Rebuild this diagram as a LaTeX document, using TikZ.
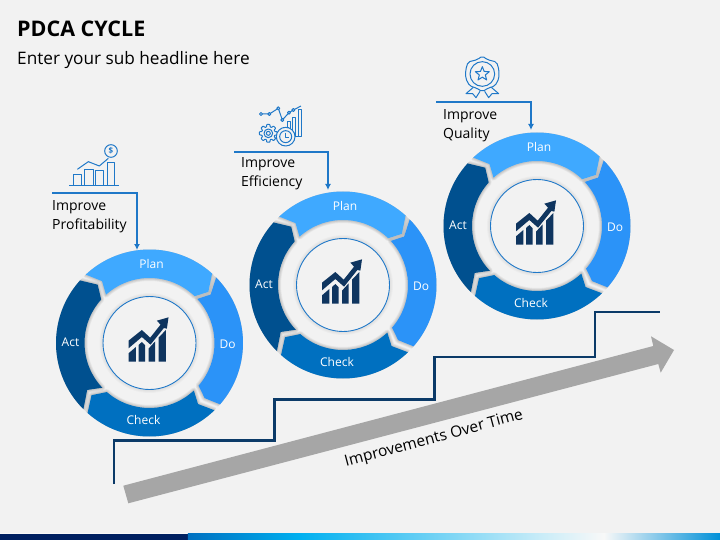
\documentclass[tikz,border=0pt]{standalone}
\usepackage{fontspec}
\setmainfont{Open Sans}
\usetikzlibrary{arrows.meta}
\definecolor{pagebg}{HTML}{F2F2F2}
\definecolor{planblue}{HTML}{3FA9FF}
\definecolor{doblue}{HTML}{2B93F8}
\definecolor{checkblue}{HTML}{0070C0}
\definecolor{actblue}{HTML}{00508F}
\definecolor{navy}{HTML}{0B3A68}
\definecolor{iconnavy}{HTML}{0F355F}
\definecolor{callblue}{HTML}{1F78C8}
\definecolor{arrowgrey}{HTML}{A6A6A6}
\definecolor{foota}{HTML}{002060}
\definecolor{footb}{HTML}{0070C0}
\definecolor{footc}{HTML}{00B0F0}
\definecolor{footd}{HTML}{C8ECF8}
\definecolor{foote}{HTML}{F8F8F8}
\definecolor{footf}{HTML}{0090D8}
\tikzset{
  seglabel/.style={text=white,font=\fontsize{12}{14}\selectfont,inner sep=0pt},
  calltext/.style={anchor=north west,align=left,inner sep=0pt,text=black,font=\fontsize{14}{19}\selectfont},
  callline/.style={draw=callblue,line width=1.2pt,-{Latex[length=6pt,width=6pt]}},
  iconline/.style={draw=callblue,line width=1pt,line join=round},
  glow/.style={draw=black!70,draw opacity=.07,line join=round},
  softglow/.style={draw=black!70,draw opacity=.03}
}
% path of a ring segment: outer a,b ; inner a,b ; notch a,b
\newcommand{\SegPath}[6]{(#1:93.5) arc[start angle=#1,end angle=#2,radius=93.5] -- (#6:78) -- (#4:65) arc[start angle=#4,end angle=#3,radius=65] -- (#5:78) -- cycle}
\newcommand{\SegGlow}[6]{%
  \foreach \wd in {6,4.5,3,1.8}{\draw[glow,line width=\wd pt] \SegPath{#1}{#2}{#3}{#4}{#5}{#6};}}
\newcommand{\CycleWheel}[3]{%
  \begin{scope}[shift={(#2,#3)},x=1pt,y=1pt]
    \begin{scope}
      \clip (0,0) circle[radius=93.5];
      \SegGlow{133}{48}{132}{46}{127.5}{41}
      \SegGlow{44.5}{-41}{42.7}{-41}{38.4}{-45}
      \SegGlow{-46}{-131.5}{-47}{-131}{-51.5}{-138}
      \SegGlow{-135}{-222}{-136.5}{-222}{-143}{-228.4}
    \end{scope}
    \fill[planblue] \SegPath{133}{48}{132}{46}{127.5}{41};
    \fill[doblue] \SegPath{44.5}{-41}{42.7}{-41}{38.4}{-45};
    \fill[checkblue] \SegPath{-46}{-131.5}{-47}{-131}{-51.5}{-138};
    \fill[actblue] \SegPath{-135}{-222}{-136.5}{-222}{-143}{-228.4};
    \foreach \wd in {6,4,2}{\draw[softglow,line width=\wd pt] (0,0) circle[radius=47];}
    \draw[fill=pagebg,draw=callblue,line width=.9pt] (0,0) circle[radius=46.5];
    \node[seglabel] (#1plan) at (2,79) {Plan};
    \node[seglabel] (#1do) at (78,-1) {Do};
    \node[seglabel] (#1check) at (-6,-77) {Check};
    \node[seglabel] (#1act) at (-79,1) {Act};
  \end{scope}
  \begin{scope}[shift={({#2-49.3},{#3-43})},x=.3333pt,y=-.3333pt]
    \fill[iconnavy] (85,160) -- (107,141) -- (107,185) -- (85,185) -- cycle;
    \fill[iconnavy] (115,135) -- (125,126) -- (135,136) -- (135,185) -- (115,185) -- cycle;
    \fill[iconnavy] (145,146) -- (165,124) -- (165,185) -- (145,185) -- cycle;
    \fill[iconnavy] (175,113) -- (197,90) -- (197,185) -- (175,185) -- cycle;
    \fill[iconnavy] (85,122) -- (125,90) -- (150,113) -- (181,74) -- (170,62) -- (205,52) -- (200,86) -- (191,84) -- (151,134) -- (125,111) -- (85,145) -- cycle;
  \end{scope}}
\begin{document}
\begin{tikzpicture}[x=1pt,y=-1pt]
\useasboundingbox (0,0) rectangle (720,540);
\fill[pagebg] (0,0) rectangle (720,540);
% footer band
\fill[white,opacity=.6] (0,532.5) rectangle (720,533.5);
\fill[foota] (0,533.5) rectangle (188,540);
\shade[left color=footb,right color=footc] (187.8,533.5) rectangle (300,540);
\shade[left color=footc,right color=footd] (299.8,533.5) rectangle (540,540);
\shade[left color=footd,right color=foote] (539.8,533.5) rectangle (604,540);
\shade[left color=foote,right color=footf] (603.8,533.5) rectangle (720,540);
% title
\node[anchor=west,inner sep=0pt,font=\fontsize{21.5}{24}\selectfont\bfseries,text=black] (title) at (17,29) {PDCA CYCLE};
\node[anchor=west,inner sep=0pt,font=\fontsize{17.2}{20}\selectfont,text=black] (subtitle) at (17,60.5) {Enter your sub headline here};
% arrow
\fill[arrowgrey] (123.3,485.7) -- (653.3,346) -- (651,336.3) -- (674,350) -- (660.7,372.7) -- (658.3,364) -- (128.3,503.3) -- cycle;
\node[rotate=15,inner sep=0pt,text=black,font=\fontsize{15.5}{18}\selectfont] (improve) at (434,439) {Improvements Over Time};
% stairs
\coordinate (st0) at (114,484);
\coordinate (st1) at (114,440.5);
\coordinate (st2) at (274.5,440.5);
\coordinate (st3) at (274.5,399.5);
\coordinate (st4) at (434.5,399.5);
\coordinate (st5) at (434.5,357);
\coordinate (st6) at (594.7,357);
\coordinate (st7) at (594.7,312.3);
\coordinate (st8) at (660,312.3);
\draw[navy,line width=2.2pt,line join=miter] (st0) -- (st1) -- (st2) -- (st3) -- (st4) -- (st5) -- (st6) -- (st7) -- (st8);
% wheels
\CycleWheel{a}{149.5}{343}
\CycleWheel{b}{343}{285}
\CycleWheel{c}{537}{226}
% callouts
\coordinate (ca) at (52,193);
\coordinate (cb) at (234,152);
\coordinate (cc) at (436,102);
\coordinate (cax) at (137,250);
\coordinate (cbx) at (328,190);
\coordinate (ccx) at (531,130);
\draw[callline] (ca) -| (cax);
\draw[callline] (cb) -| (cbx);
\draw[callline] (cc) -| (ccx);
\node[calltext] (ta) at (52,200.5) {Improve\\Profitability};
\node[calltext] (tb) at (241,157.5) {Improve\\Efficiency};
\node[calltext] (tc) at (443,109) {Improve\\Quality};
% icon: profit
\begin{scope}[shift={(40,135)},x=.3333pt,y=-.3333pt]
  \draw[iconline] (88,153) -- (238,153);
  \draw[iconline] (102,153) -- (102,118) -- (125,118) -- (125,153);
  \draw[iconline] (135,153) -- (135,103) -- (160,103) -- (160,153);
  \draw[iconline] (168,153) -- (168,107) -- (192,107) -- (192,153);
  \draw[iconline] (203,153) -- (203,83) -- (225,83) -- (225,153);
  \draw[iconline] (112,103) -- (145,80) -- (178,93) -- (205,70);
  \draw[iconline] (213,48) circle[radius=19];
  \node[inner sep=0pt,text=callblue,font=\fontsize{8}{8}\selectfont\bfseries] (dollar) at (213,48) {\$};
\end{scope}
% icon: efficiency
\begin{scope}[shift={(230,95)},x=.3333pt,y=-.3333pt]
  \draw[iconline] (96,57) -- (118,57) -- (145,40) -- (157,75) -- (177,53) -- (190,45) -- (213,33);
  \foreach \q in {(93,57),(118,57),(145,40),(157,75),(177,53),(190,45)}{\draw[iconline,fill=pagebg] \q circle[radius=4.5];}
  \draw[iconline] (172,100) -- (172,80) -- (183,80) -- (183,105);
  \draw[iconline] (188,120) -- (188,68) -- (197,68) -- (197,125);
  \draw[iconline] (205,125) -- (205,45) -- (215,45) -- (215,125) -- (190,125);
  \begin{scope}[shift={(115,115)}]
    \draw[iconline,rounded corners=.5pt,fill=pagebg] (-16:20)
      \foreach \k in {0,45,...,315}{ -- ({\k-16}:20) -- ({\k-10}:27) -- ({\k+10}:27) -- ({\k+16}:20) } -- cycle;
    \draw[iconline] (0,0) circle[radius=13];
    \draw[iconline] (0,0) circle[radius=6];
  \end{scope}
  \draw[iconline,fill=pagebg] (167,125) circle[radius=28];
  \draw[iconline] (167,125) circle[radius=18];
  \draw[iconline] (167,113) -- (167,127) -- (177,127);
  \draw[iconline] (158,97) -- (176,97);
\end{scope}
% icon: quality
\begin{scope}[shift={(430,50)},x=.3333pt,y=-.3333pt]
  \draw[iconline] (130,112) -- (108,131) -- (128,131) -- (138,143) -- (150,124);
  \draw[iconline] (184,112) -- (206,131) -- (186,131) -- (176,143) -- (164,124);
  \draw[iconline,rounded corners=2pt,fill=pagebg] (157,18) -- (172,29) -- (200,36) -- (207,60) -- (207,85) -- (195,108) -- (175,114) -- (157,125) -- (139,114) -- (119,108) -- (107,85) -- (107,60) -- (114,36) -- (142,29) -- cycle;
  \draw[iconline] (157,72) circle[radius=37];
  \begin{scope}[shift={(157,72)},y=.3333pt]
    \draw[iconline] (90:22) -- (126:9.5) -- (162:22) -- (198:9.5) -- (234:22) -- (270:9.5) -- (306:22) -- (342:9.5) -- (18:22) -- (54:9.5) -- cycle;
  \end{scope}
\end{scope}
\end{tikzpicture}
\end{document}
